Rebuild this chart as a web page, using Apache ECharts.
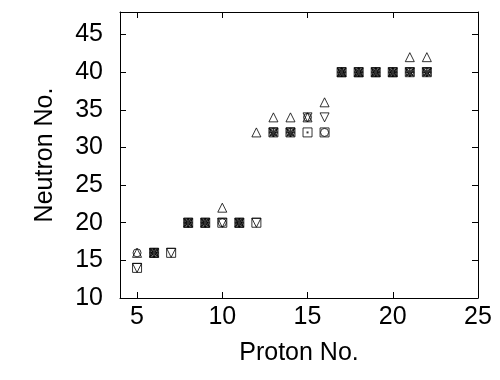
<!DOCTYPE html>
<html><head><meta charset="utf-8">
<script src="https://cdn.jsdelivr.net/npm/echarts@6/dist/echarts.min.js"></script>
<style>html,body{margin:0;padding:0;background:#fff}#c{width:500px;height:380px}</style>
</head><body><div id="c"></div>
<script>
var xTicks = [5, 10, 15, 20, 25];
var yTicks = [10, 15, 20, 25, 30, 35, 40, 45];
var triUp = [[5,16],[6,16],[8,20],[9,20],[10,22],[11,20],[12,32],[13,34],[14,34],[15,34],[16,36],[17,40],[18,40],[19,40],[20,40],[21,42],[22,42]];
var triDown = [[5,14],[6,16],[7,16],[8,20],[9,20],[10,20],[11,20],[12,20],[13,32],[14,32],[15,34],[16,34],[17,40],[18,40],[19,40],[20,40],[21,40],[22,40]];
var circles = [[5,16],[6,16],[8,20],[9,20],[10,20],[11,20],[13,32],[14,32],[15,34],[16,32],[17,40],[18,40],[19,40],[20,40],[21,40],[22,40]];
var squares = [[5,14],[6,16],[7,16],[8,20],[9,20],[10,20],[11,20],[12,20],[13,32],[14,32],[15,32],[16,32],[17,40],[18,40],[19,40],[20,40],[21,40],[22,40]];
var crosses = [[6,16],[8,20],[9,20],[11,20],[13,32],[14,32],[17,40],[18,40],[19,40],[20,40],[21,40],[22,40]];
var dots = [[15,32]];

var font = 'Liberation Sans, Arial, sans-serif';
var fs = 25;
function mk(data, symbol, size, z) {
  return {type:'scatter', data:data, symbol:symbol, symbolSize:size, z:z,
    itemStyle:{color:'rgba(0,0,0,0)', borderColor:'#000', borderWidth:1}};
}
var chart = echarts.init(document.getElementById('c'), null, {renderer:'canvas'});
function ticks(vals){ return {show:true, inside:true, length:6, customValues:vals, lineStyle:{color:'#000', width:1}}; }
var line = {show:true, onZero:false, lineStyle:{color:'#000', width:1}};
chart.setOption({
  animation:false,
  backgroundColor:'#fff',
  grid:{left:120, right:22, top:12, bottom:82},
  xAxis:[{type:'value', min:4, max:25,
    axisLine:line, axisTick:ticks(xTicks), splitLine:{show:false},
    axisLabel:{color:'#000', fontSize:fs, fontFamily:font, margin:7, customValues:xTicks},
    name:'Proton No.', nameLocation:'middle', nameGap:43,
    nameTextStyle:{color:'#000', fontSize:fs, fontFamily:font}},
   {type:'value', position:'top', min:4, max:25,
    axisLine:line, axisTick:ticks(xTicks), axisLabel:{show:false}, splitLine:{show:false}}],
  yAxis:[{type:'value', min:10, max:48,
    axisLine:line, axisTick:ticks(yTicks), splitLine:{show:false},
    axisLabel:{color:'#000', fontSize:fs, fontFamily:font, margin:17, customValues:yTicks},
    name:'Neutron No.', nameLocation:'middle', nameGap:62, nameRotate:90,
    nameTextStyle:{color:'#000', fontSize:fs, fontFamily:font}},
   {type:'value', position:'right', min:10, max:48,
    axisLine:line, axisTick:ticks(yTicks), axisLabel:{show:false}, splitLine:{show:false}}],
  series:[
    mk(squares, 'rect', 9, 2),
    mk(circles, 'circle', 8, 3),
    mk(triUp, 'triangle', 9, 4),
    mk(triDown, 'path://M0,0 L10,0 L5,9 Z', 9, 5),
    {type:'scatter', data:crosses, symbol:'path://M0,0 L10,10 M10,0 L0,10 M5,0 L5,10 M0,5 L10,5', symbolSize:8, z:6,
      itemStyle:{color:'rgba(0,0,0,0)', borderColor:'#000', borderWidth:1.5}},
    {type:'scatter', data:dots, symbol:'rect', symbolSize:2, z:7, itemStyle:{color:'#000'}}
  ]
});
</script></body></html>
